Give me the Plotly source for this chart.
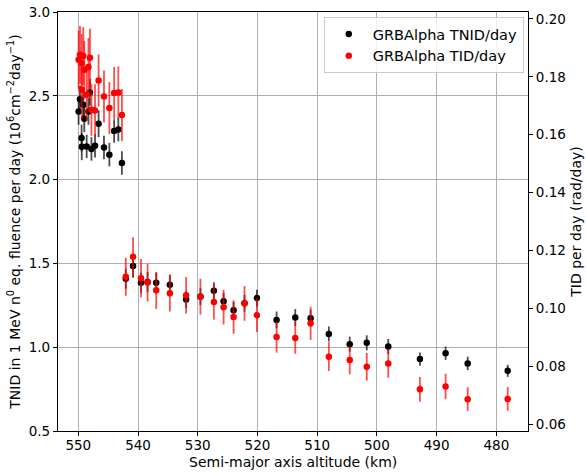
import plotly.graph_objects as go

# Semi-major axis altitude (km)
altitude = [549.95, 549.72, 549.45, 549.42, 549.17, 549.0, 548.6, 548.3, 548.05,
            547.8, 547.2, 546.6, 545.7, 544.8, 544.0, 543.3, 542.7,
            542.05, 540.83, 539.5, 538.4, 536.95, 534.67, 531.95, 529.55, 527.3,
            525.67, 524.0, 522.17, 520.1, 516.8, 513.67, 511.1, 508.05, 504.55,
            501.7, 498.1, 492.8, 488.5, 484.8, 478.1]

# TNID per day (10^6 cm^-2 day^-1)
tnid = [2.407, 2.480, 2.248, 2.196, 2.446, 2.363, 2.198, 2.407, 2.520,
        2.183, 2.202, 2.333, 2.192, 2.149, 2.290, 2.299, 2.099,
        1.409, 1.484, 1.385, 1.389, 1.385, 1.373, 1.284, 1.302, 1.337,
        1.274, 1.220, 1.262, 1.293, 1.163, 1.177, 1.173, 1.079, 1.018,
        1.026, 1.004, 0.929, 0.964, 0.903, 0.859]
tnid_err = [0.08, 0.08, 0.08, 0.08, 0.08, 0.08, 0.07, 0.08, 0.08,
            0.07, 0.07, 0.08, 0.07, 0.07, 0.07, 0.07, 0.07,
            0.06, 0.07, 0.06, 0.06, 0.06, 0.06, 0.05, 0.05, 0.05,
            0.05, 0.05, 0.05, 0.05, 0.05, 0.05, 0.05, 0.045, 0.045,
            0.045, 0.045, 0.04, 0.04, 0.04, 0.036]

# TID per day (rad/day)
tid = [0.1859, 0.1876, 0.1848, 0.1755, 0.1872, 0.1824, 0.1738, 0.1834, 0.1866,
       0.1686, 0.1684, 0.1787, 0.1732, 0.1692, 0.1744, 0.1746, 0.1668,
       0.1109, 0.1178, 0.1104, 0.1089, 0.1062, 0.1052, 0.1045, 0.1040, 0.1022,
       0.1004, 0.0970, 0.1017, 0.0976, 0.0901, 0.0897, 0.0948, 0.0833, 0.0821,
       0.0798, 0.0809, 0.0720, 0.0730, 0.0686, 0.0687]
tid_err = [0.010, 0.010, 0.010, 0.010, 0.010, 0.010, 0.009, 0.010, 0.010,
           0.009, 0.009, 0.009, 0.009, 0.009, 0.009, 0.009, 0.009,
           0.0066, 0.0068, 0.0066, 0.0065, 0.0064, 0.0063, 0.0063, 0.0062, 0.0061,
           0.006, 0.0058, 0.006, 0.0058, 0.0054, 0.0054, 0.0057, 0.005, 0.0049,
           0.0048, 0.0049, 0.0043, 0.0044, 0.0041, 0.0041]

FONT = "DejaVu Sans"

fig = go.Figure()
fig.add_trace(go.Scatter(
    x=altitude, y=tnid, mode="markers", name="GRBAlpha TNID/day",
    marker=dict(color="black", size=6.5),
    error_y=dict(type="data", array=tnid_err, visible=True, width=0,
                 thickness=1.8, color="rgba(0,0,0,0.7)"),
    yaxis="y"))
fig.add_trace(go.Scatter(
    x=altitude, y=tid, mode="markers", name="GRBAlpha TID/day",
    marker=dict(color="red", size=6.5),
    error_y=dict(type="data", array=tid_err, visible=True, width=0,
                 thickness=1.8, color="rgba(255,0,0,0.7)"),
    yaxis="y2"))

axis_common = dict(ticks="outside", ticklen=4, tickwidth=1, tickcolor="black",
                   showline=True, linecolor="black", linewidth=1.2,
                   tickfont=dict(family=FONT, size=13.5, color="black"),
                   zeroline=False, automargin=False)

fig.update_layout(
    width=586, height=474,
    margin=dict(l=58, r=58, t=12, b=43),
    paper_bgcolor="white", plot_bgcolor="white",
    font=dict(family=FONT, size=14, color="black"),
    showlegend=True,
    legend=dict(x=0.991, y=0.988, xanchor="right", yanchor="top",
                bgcolor="rgba(255,255,255,0.8)", bordercolor="#cccccc",
                borderwidth=1, font=dict(family=FONT, size=14.5),
                itemsizing="trace", itemwidth=38, tracegroupgap=2),
    xaxis=dict(range=[553.4, 474.7], dtick=10, tick0=480,
               showgrid=True, gridcolor="#b0b0b0", gridwidth=1, mirror=True,
               ticklabelstandoff=-2,
               **axis_common),
    yaxis=dict(range=[0.5, 3.0], dtick=0.5, tickformat=".1f",
               showgrid=True, gridcolor="#b0b0b0", gridwidth=1,
               title=dict(text="TNID in 1 MeV n<sup>0</sup> eq. fluence per day (10<sup>6</sup>cm<sup>\u22122</sup>day<sup>\u22121</sup>)",
                          font=dict(family=FONT, size=14), standoff=4),
               **axis_common),
    yaxis2=dict(range=[0.0576, 0.2024], dtick=0.02, tick0=0.06, tickformat=".2f",
                overlaying="y", side="right", showgrid=False,
                title=dict(text="TID per day (rad/day)",
                           font=dict(family=FONT, size=14), standoff=6),
                **axis_common),
    annotations=[dict(text="Semi-major axis altitude (km)", xref="paper", yref="paper",
                      x=0.5, y=-0.0738, xanchor="center", yanchor="middle",
                      showarrow=False, font=dict(family=FONT, size=14, color="black"))],
)

fig.write_html("out.html")
